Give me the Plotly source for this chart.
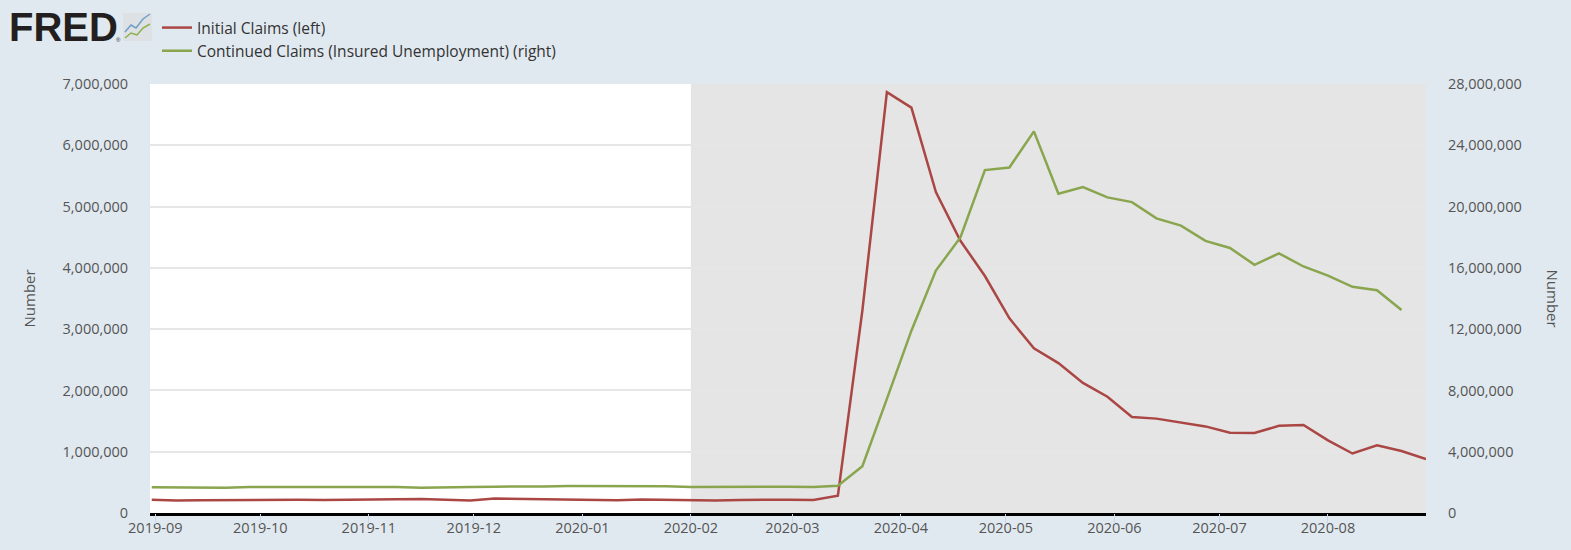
import plotly.graph_objects as go
import pandas as pd

# ---- data ----
initial_dates = pd.date_range("2019-08-31", "2020-08-29", freq="7D")
initial_claims = [
    217000, 206000, 210000, 213000, 218000, 210000, 216000, 212000, 218000,
    213000, 225000, 227000, 215000, 206000, 235000, 229000, 222000, 223000,
    212000, 207000, 220000, 215000, 203000, 205000, 214000, 219000, 217000,
    211000, 282000, 3307000, 6867000, 6615000, 5237000, 4442000, 3867000,
    3176000, 2687000, 2446000, 2123000, 1897000, 1566000, 1540000, 1482000,
    1413000, 1310000, 1307000, 1422000, 1435000, 1186000, 971000, 1104000,
    1011000, 881000,
]
continued_dates = pd.date_range("2019-08-31", "2020-08-22", freq="7D")
continued_claims = [
    1680000, 1670000, 1680000, 1650000, 1690000, 1690000, 1690000, 1690000,
    1690000, 1700000, 1690000, 1650000, 1690000, 1690000, 1720000, 1710000,
    1730000, 1760000, 1750000, 1740000, 1730000, 1750000, 1690000, 1710000,
    1700000, 1720000, 1720000, 1700000, 1780000, 3060000, 7450000, 11900000,
    15820000, 17990000, 22380000, 22550000, 24910000, 20840000, 21270000,
    20600000, 20290000, 19230000, 18760000, 17760000, 17300000, 16200000,
    16950000, 16090000, 15490000, 14760000, 14540000, 13250000,
]
recession_start = "2020-02-01"
recession_end = "2020-08-29"

series_names = ["Initial Claims (left)", "Continued Claims (Insured Unemployment) (right)"]
left_ticks = list(range(0, 7000001, 1000000))
right_ticks = list(range(0, 28000001, 4000000))
axis_title = "Number"

# ---- figure ----
W, H = 1571, 550
ML, MR, MT, MB = 150, 145, 84, 37
PW, PH = W - ML - MR, H - MT - MB


def px(x):
    return (x - ML) / PW


def py(y):
    return (H - MB - y) / PH


fig = go.Figure()
fig.add_trace(go.Scatter(x=initial_dates, y=initial_claims, name=series_names[0],
                         mode="lines", line=dict(color="#aa4643", width=2.5), yaxis="y"))
fig.add_trace(go.Scatter(x=continued_dates, y=continued_claims, name=series_names[1],
                         mode="lines", line=dict(color="#89a54e", width=2.5), yaxis="y2"))
# invisible helper trace to carry the tick-mark axis
fig.add_trace(go.Scatter(x=[initial_dates[0]], y=[0], xaxis="x2", yaxis="y", mode="markers",
                         marker=dict(opacity=0), showlegend=False, hoverinfo="skip"))

fig.add_shape(type="rect", xref="x", yref="paper", x0=recession_start, x1=recession_end,
              y0=0, y1=1, fillcolor="#e5e5e5", line=dict(width=0), layer="between")

# FRED logo (decorative)
fig.add_annotation(xref="paper", yref="paper", x=px(7), y=py(27), xanchor="left", yanchor="middle",
                   text="<b>FRED</b>", showarrow=False,
                   font=dict(family="Liberation Sans", size=40, color="#231f20"))
fig.add_annotation(xref="paper", yref="paper", x=px(114), y=py(40), xanchor="left", yanchor="middle",
                   text="®", showarrow=False, font=dict(family="Liberation Sans", size=6, color="#231f20"))
fig.add_shape(type="rect", xref="paper", yref="paper", x0=px(123), x1=px(152), y0=py(41), y1=py(13),
              fillcolor="#dde1e4", line=dict(width=0), layer="above")


def path(pts):
    return "M " + " L ".join(f"{px(a)},{py(b)}" for a, b in pts)


fig.add_shape(type="path", xref="paper", yref="paper",
              path=path([(125, 32), (131, 25), (136, 28), (143, 19), (150, 14)]),
              line=dict(color="#6f9fc9", width=1.5), layer="above")
fig.add_shape(type="path", xref="paper", yref="paper",
              path=path([(125, 38), (131, 33), (137, 35), (143, 28), (150, 24)]),
              line=dict(color="#8db04f", width=1.5), layer="above")

tickfont = dict(family="Open Sans", size=14.5, color="#555555")
titlefont = dict(family="Open Sans", size=15, color="#555555")

# axis titles
fig.add_annotation(xref="paper", yref="paper", x=px(28), y=0.5, xanchor="center", yanchor="middle",
                   text=axis_title, textangle=-90, showarrow=False, font=titlefont)
fig.add_annotation(xref="paper", yref="paper", x=px(1553), y=0.5, xanchor="center", yanchor="middle",
                   text=axis_title, textangle=90, showarrow=False, font=titlefont)

xrange = ["2019-08-30 12:00", "2020-08-29"]
fig.update_layout(
    width=W, height=H,
    margin=dict(l=ML, r=MR, t=MT, b=MB, autoexpand=False),
    paper_bgcolor="#e1e9f0", plot_bgcolor="#ffffff",
    font=dict(family="Open Sans", color="#333333"),
    showlegend=True,
    legend=dict(xref="container", yref="container", x=157 / W, y=1 - 11 / H,
                xanchor="left", yanchor="top", bgcolor="rgba(0,0,0,0)",
                font=dict(family="Open Sans", size=15.5, color="#333333"),
                itemwidth=30, tracegroupgap=0),
    xaxis=dict(range=xrange, tickformat="%Y-%m", dtick="M1",
               tick0="2019-09-01", ticks="", showgrid=False,
               showline=True, linecolor="#000000", linewidth=3,
               tickfont=tickfont, zeroline=False),
    xaxis2=dict(range=xrange, dtick="M1", tick0="2019-09-01", overlaying="x", anchor="y",
                side="bottom", ticks="outside", ticklen=10, tickcolor="#ccd6eb", tickwidth=1,
                showticklabels=False, showgrid=False, showline=False, zeroline=False),
    yaxis=dict(range=[0, 7000000], tickvals=left_ticks, tickformat=",d",
               showgrid=True, gridcolor="#e6e6e6", gridwidth=1.5, zeroline=False,
               tickfont=tickfont, ticks="outside", ticklen=18, tickcolor="rgba(0,0,0,0)"),
    yaxis2=dict(range=[0, 28000000], tickvals=right_ticks, tickformat=",d",
                overlaying="y", side="right", showgrid=False, zeroline=False,
                tickfont=tickfont, ticks="outside", ticklen=18, tickcolor="rgba(0,0,0,0)"),
)

fig.write_html("out.html", config={"displayModeBar": False},
               post_script="document.body.style.margin='0';document.body.style.padding='0';")
